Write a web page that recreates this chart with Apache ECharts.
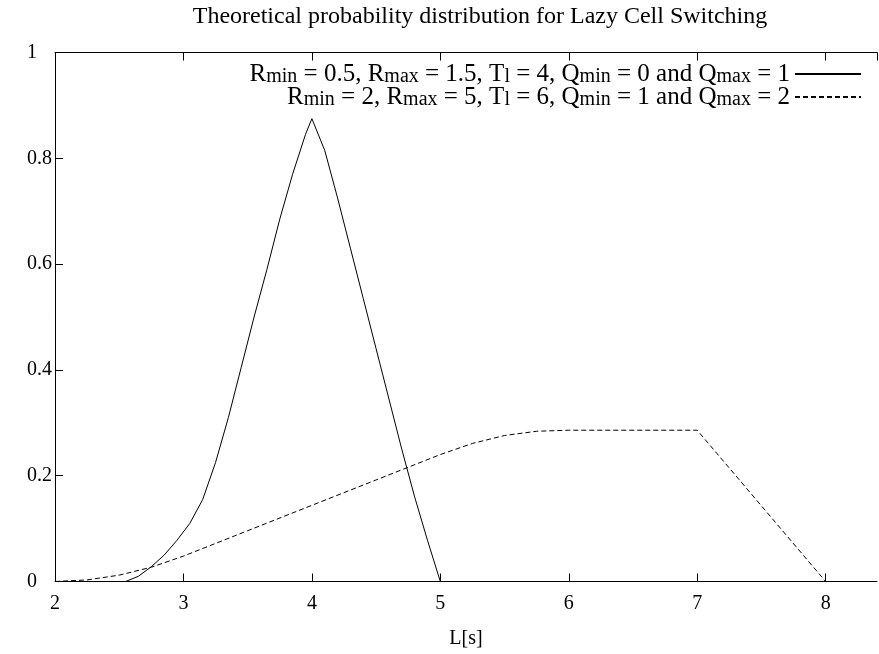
<!DOCTYPE html>
<html>
<head>
<meta charset="utf-8">
<script src="https://cdn.jsdelivr.net/npm/echarts@6/dist/echarts.min.js"></script>
<style>
html,body{margin:0;padding:0;background:#fff;}
#chart{width:879px;height:654px;}
</style>
</head>
<body>
<div id="chart"></div>
<script>
var titleText = 'Theoretical probability distribution for Lazy Cell Switching';
var xAxisName = 'L[s]';
var seriesNames = ['set1', 'set2'];
var legendLabels = [
  '{t|R}{sub|min}{t| = 0.5, R}{sub|max}{t| = 1.5, T}{sub|l}{t| = 4, Q}{sub|min}{t| = 0 and Q}{sub|max}{t| = 1}',
  '{t|R}{sub|min}{t| = 2, R}{sub|max}{t| = 5, T}{sub|l}{t| = 6, Q}{sub|min}{t| = 1 and Q}{sub|max}{t| = 2}'
];
var solidX = [2, 2.55, 2.65, 2.75, 2.85, 2.95, 3.05, 3.15, 3.25, 3.35, 3.45, 3.55, 3.65, 3.75, 3.85, 3.95, 4, 4.1, 4.2, 4.3, 4.4, 4.5, 4.6, 4.7, 4.8, 4.9, 5];
var solidY = [0, 0, 0.01, 0.028, 0.05, 0.078, 0.11, 0.155, 0.225, 0.31, 0.405, 0.5, 0.59, 0.685, 0.77, 0.845, 0.875, 0.815, 0.725, 0.63, 0.535, 0.44, 0.345, 0.25, 0.16, 0.078, 0];
var dashedX = [2, 2.25, 2.5, 2.75, 3, 3.5, 4, 4.5, 5, 5.25, 5.5, 5.75, 6, 7, 8];
var dashedY = [0, 0.003, 0.012, 0.027, 0.048, 0.096, 0.144, 0.192, 0.24, 0.261, 0.276, 0.284, 0.286, 0.286, 0];
var yTicks = [0, 0.2, 0.4, 0.6, 0.8, 1];

function pairs(xs, ys) { return xs.map(function (x, i) { return [x, ys[i]]; }); }

var FONT = 'Liberation Serif';
var richStyle = {
  t: { fontFamily: FONT, fontSize: 25, color: '#000', lineHeight: 26, verticalAlign: 'bottom' },
  sub: { fontFamily: FONT, fontSize: 20, color: '#000', lineHeight: 12, verticalAlign: 'bottom' }
};

function makeLegend(idx, top) {
  return {
    data: [seriesNames[idx]],
    right: 17, top: top, padding: 0,
    align: 'right', itemWidth: 66, itemHeight: 10,
    selectedMode: false,
    itemStyle: { opacity: 0 },
    formatter: function () { return legendLabels[idx]; },
    textStyle: { fontFamily: FONT, fontSize: 25, color: '#000', rich: richStyle }
  };
}

var chart = echarts.init(document.getElementById('chart'), null, { renderer: 'canvas' });
chart.setOption({
  animation: false,
  backgroundColor: '#fff',
  title: {
    text: titleText, left: 480, top: 5, textAlign: 'center', padding: 0,
    textStyle: { fontFamily: FONT, fontSize: 24, fontWeight: 'normal', color: '#000' }
  },
  legend: [makeLegend(0, 62), makeLegend(1, 85)],
  grid: { left: 55, right: 2, top: 52.5, bottom: 72.5, containLabel: false },
  xAxis: [{
    type: 'value', min: 2, max: 8.4, interval: 1,
    name: xAxisName, nameLocation: 'middle', nameGap: 47,
    nameTextStyle: { fontFamily: FONT, fontSize: 20, color: '#000' },
    axisLine: { show: true, onZero: false, lineStyle: { color: '#000', width: 1 } },
    axisTick: { show: true, inside: true, length: 8, lineStyle: { color: '#000' } },
    axisLabel: { fontFamily: FONT, fontSize: 20, color: '#000', margin: 12, showMaxLabel: false },
    splitLine: { show: false }
  }, {
    type: 'value', min: 2, max: 8.4, interval: 1, position: 'top',
    axisLine: { show: true, onZero: false, lineStyle: { color: '#000', width: 1 } },
    axisTick: { show: true, inside: true, length: 8, lineStyle: { color: '#000' } },
    axisLabel: { show: false },
    splitLine: { show: false }
  }],
  yAxis: {
    type: 'value', min: yTicks[0], max: yTicks[yTicks.length - 1], interval: 0.2,
    axisLine: { show: true, onZero: false, lineStyle: { color: '#000', width: 1 } },
    axisTick: { show: true, inside: true, length: 8, lineStyle: { color: '#000' } },
    axisLabel: { fontFamily: FONT, fontSize: 20, color: '#000', margin: 28, align: 'left' },
    splitLine: { show: false }
  },
  series: [{
    name: seriesNames[0], type: 'line', xAxisIndex: 0,
    data: pairs(solidX, solidY), symbol: 'none', smooth: false,
    lineStyle: { color: '#000', width: 1, type: 'solid' }, itemStyle: { color: '#000' }
  }, {
    name: seriesNames[1], type: 'line', xAxisIndex: 0,
    data: pairs(dashedX, dashedY), symbol: 'none', smooth: false,
    lineStyle: { color: '#000', width: 1, type: [5, 3] }, itemStyle: { color: '#000' }
  }]
});
</script>
</body>
</html>
